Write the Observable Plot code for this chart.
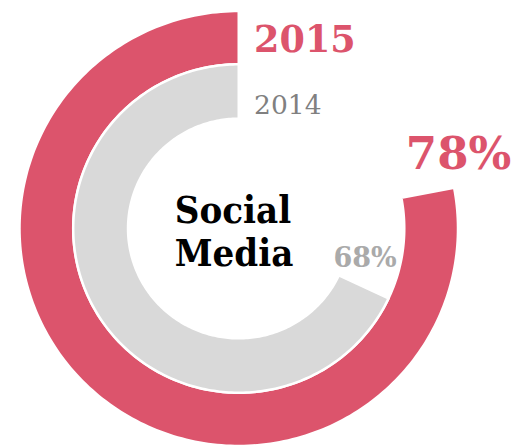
<!DOCTYPE html>
<html>
<head>
<meta charset="utf-8">
<script src="https://cdn.jsdelivr.net/npm/d3@7"></script>
<script src="https://cdn.jsdelivr.net/npm/@observablehq/plot@0.6"></script>
<style>
  html, body { margin: 0; padding: 0; background: #fff; }
  svg { display: block; }
</style>
</head>
<body>
<div id="chart"></div>
<script>
// ---- data ----
const years = ["2015", "2014"];
const shares = [78, 68];          // percent
const category = "Social Media";

// ---- ring geometry (in units of the outer radius) ----
const rings = {
  "2015": [0.755, 1.0],
  "2014": [0.505, 0.755]
};
const N = 240;
const polygons = [];
years.forEach((year, i) => {
  const v = shares[i] / 100;
  const [r0, r1] = rings[year];
  // outer edge, from 12 o'clock counter-clockwise
  for (let k = 0; k <= N; k++) {
    const a = -v * 2 * Math.PI * k / N;
    polygons.push({year, x: r1 * Math.sin(a), y: r1 * Math.cos(a)});
  }
  // inner edge back
  for (let k = N; k >= 0; k--) {
    const a = -v * 2 * Math.PI * k / N;
    polygons.push({year, x: r0 * Math.sin(a), y: r0 * Math.cos(a)});
  }
});

const red = "#dc546c";
const grey = "#d9d9d9";
const serif = "'DejaVu Serif', Georgia, serif";
const serifCond = "'DejaVu Serif Condensed', 'DejaVu Serif', serif";

const chart = Plot.plot({
  width: 518,
  height: 448,
  margin: 0,
  x: {domain: [-1, 1], range: [19, 457.5], axis: null},
  y: {domain: [-1, 1], range: [445.5, 10.5], axis: null},
  color: {domain: years, range: [red, grey]},
  marks: [
    Plot.line(polygons, {
      x: "x", y: "y", z: "year", fill: "year",
      curve: "linear-closed", stroke: "white", strokeWidth: 2.5
    }),
    // year labels
    Plot.text([years[0]], {
      x: 0.07, y: 0.812, text: d => d, textAnchor: "start", lineAnchor: "bottom",
      fontFamily: serif, fontWeight: "bold", fontSize: 36.5, fill: red
    }),
    Plot.text([years[1]], {
      x: 0.07, y: 0.528, text: d => d, textAnchor: "start", lineAnchor: "bottom",
      fontFamily: serif, fontWeight: "normal", fontSize: 26.5, fill: "#808080"
    }),
    // value labels
    Plot.text([shares[0]], {
      x: 0.762, y: 0.272, text: d => d + "%", textAnchor: "start", lineAnchor: "bottom",
      fontFamily: serif, fontWeight: "bold", fontSize: 45, fill: red
    }),
    Plot.text([shares[1]], {
      x: 0.432, y: -0.178, text: d => d + "%", textAnchor: "start", lineAnchor: "bottom",
      fontFamily: serif, fontWeight: "bold", fontSize: 27, fill: "#aaaaaa"
    }),
    // category label
    Plot.text([category], {
      x: -0.292, y: -0.174, text: d => d.replace(" ", "\n"), textAnchor: "start",
      lineAnchor: "bottom", lineHeight: 1.13,
      fontFamily: serifCond, fontWeight: "bold", fontSize: 38, fill: "#000"
    })
  ]
});
document.getElementById("chart").appendChild(chart);
</script>
</body>
</html>
